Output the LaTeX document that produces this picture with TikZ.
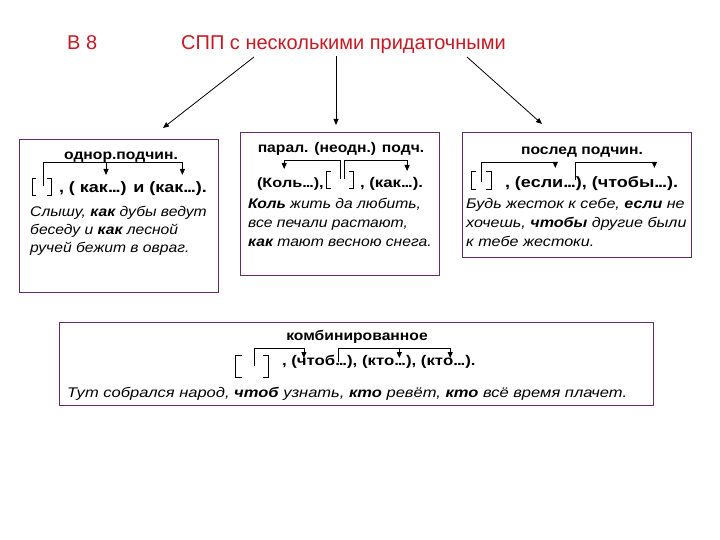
\documentclass[tikz,border=0pt]{standalone}
\usepackage{fontspec}
\setmainfont{Liberation Sans}
\newfontfamily\bodyfont[FakeStretch=1.12]{Liberation Sans}
\newfontfamily\bodyfontc[FakeStretch=1.15]{Liberation Sans}
\newfontfamily\bodyfontb[FakeStretch=1.18]{Liberation Sans}
\newfontfamily\schfont[FakeStretch=1.2]{Liberation Sans}
\usetikzlibrary{arrows.meta}
\definecolor{titlered}{RGB}{200,25,35}
\definecolor{boxline}{RGB}{100,45,100}
\tikzset{
  box/.style={draw=boxline, line width=1pt, fill=white},
  ttl/.style={font=\fontsize{20}{22}\selectfont, text=titlered, anchor=base west, inner sep=0},
  head/.style={font=\bodyfont\fontsize{14}{16}\selectfont\bfseries, anchor=base, inner sep=0},
  sch/.style={font=\schfont\fontsize{14}{16}\selectfont\bfseries, anchor=base west, inner sep=0, outer sep=0},
  schl/.style={sch, font=\schfont\fontsize{15}{17}\selectfont\bfseries},
  schs/.style={sch, font=\schfont\fontsize{13.5}{16}\selectfont\bfseries},
  ex/.style={font=\bodyfont\fontsize{14}{16}\selectfont\itshape, anchor=base west, inner sep=0},
  exc/.style={ex, font=\bodyfontc\fontsize{14}{16}\selectfont\itshape},
  exb/.style={ex, font=\bodyfontb\fontsize{14}{16}\selectfont\itshape},
  arr/.style={-{Triangle[length=6pt,width=5pt]}, line width=0.8pt},
  bline/.style={line width=0.8pt},
  brk/.style={line width=0.7pt}
}
\newcommand{\bi}[1]{\textbf{#1}}
\newcommand{\elp}{.\kern-0.08em.\kern-0.08em.}
\begin{document}
\begin{tikzpicture}[x=1pt,y=-1pt]
\useasboundingbox (0,0) rectangle (720,540);
\fill[white] (0,0) rectangle (720,540);

% title
\node[ttl] (b8) at (67,50) {В 8};
\node[ttl] (title) at (181,50) {СПП с несколькими придаточными};
\coordinate (s1) at (254,57);
\coordinate (e1) at (163,128);
\coordinate (s2) at (336,56);
\coordinate (e2) at (336,125);
\coordinate (s3) at (467,57);
\coordinate (e3) at (542,124);
\draw[arr] (s1) -- (e1);
\draw[arr] (s2) -- (e2);
\draw[arr] (s3) -- (e3);

% boxes
\draw[box] (19,140) rectangle (218,292);
\draw[box] (240,133) rectangle (439,275);
\draw[box] (462,133) rectangle (691,257);
\draw[box] (59,322) rectangle (653,405);

% ---- box 1
\node[head] (h1) at (121,160) {однор.подчин.};
\draw[brk] (36,178) -- (32,178) -- (32,195) -- (36,195);
\draw[brk] (47,178) -- (51,178) -- (51,195) -- (47,195);
\node[schl] (a1) at (59,193) {, ( как};
\node[schl] (a2) at (a1.base east) {\elp) и (как};
\node[schl] (a3) at (a2.base east) {\elp).};
\coordinate (ta1) at ([xshift=-2pt]a1.base east |- 0,175);
\coordinate (ta2) at ([xshift=-1pt]a2.base east |- 0,175);
\draw[bline] (43,186) -- (43,162) -- (ta2 |- 0,162);
\draw[arr] (ta1 |- 0,162) -- (ta1);
\draw[arr] (ta2 |- 0,162) -- (ta2);
\node[ex] (l11) at (30,216) {Слышу, \bi{как} дубы ведут};
\node[ex] (l12) at (30,234) {беседу и \bi{как} лесной};
\node[ex] (l13) at (30,252) {ручей бежит в овраг.};

% ---- box 2
\node[head] (h2) at (341,153) {парал. (неодн.) подч.};
\node[schs] (b1) at (257,188) {(Ко};
\node[schs] (b1b) at (b1.base east) {ль\elp),};
\draw[brk] (331,171) -- (326,171) -- (326,188) -- (331,188);
\draw[brk] (349,171) -- (353,171) -- (353,188) -- (349,188);
\node[sch] (b3) at (360,188) {, (как};
\node[sch] (b4) at (b3.base east) {\elp).};
\coordinate (tb1) at ([xshift=2pt]b1.base east |- 0,169);
\coordinate (tb2) at ([xshift=6pt]b3.base east |- 0,171);
\draw[bline] (340,179) -- (340,160) -- (tb1 |- 0,160);
\draw[arr] (tb1 |- 0,160) -- (tb1);
\draw[bline] (344,179) -- (344,160) -- (tb2 |- 0,160);
\draw[arr] (tb2 |- 0,160) -- (tb2);
\node[ex] (l21) at (248,208) {\bi{Коль} жить да любить,};
\node[ex] (l22) at (248,227) {все печали растают,};
\node[ex] (l23) at (248,246) {\bi{как} тают весною снега.};

% ---- box 3
\node[head] (h3) at (582,155) {послед подчин.};
\draw[brk] (476,171) -- (471,171) -- (471,189) -- (476,189);
\draw[brk] (486,171) -- (491,171) -- (491,189) -- (486,189);
\node[schl] (c1) at (505,188) {, (если};
\node[schl] (c2) at (c1.base east) {\elp),};
\node[schl] (c3) at (c2.base east) {\ (чтобы};
\node[schl] (c4) at (c3.base east) {\elp).};
\coordinate (tc1) at ([xshift=-8pt]c1.base east |- 0,168);
\coordinate (tc2) at ([xshift=0pt]c3.base east |- 0,168);
\coordinate (vc2) at ([xshift=-11pt]c2.base east |- 0,180);
\draw[bline] (481,182) -- (481,162) -- (tc1 |- 0,162);
\draw[arr] (tc1 |- 0,162) -- (tc1);
\draw[bline] (vc2) -- (vc2 |- 0,162) -- (tc2 |- 0,162);
\draw[arr] (tc2 |- 0,162) -- (tc2);
\node[exc] (l31) at (466,208) {Будь жесток к себе, \bi{если} не};
\node[exc] (l32) at (466,227) {хочешь, \bi{чтобы} другие были};
\node[exc] (l33) at (466,246) {к тебе жестоки.};

% ---- box 4
\node[head] (h4) at (357,340) {комбинированное};
\draw[brk] (242,355) -- (235,355) -- (235,377) -- (242,377);
\draw[brk] (263,355) -- (268,355) -- (268,377) -- (263,377);
\node[sch] (d1) at (282,365) {, (};
\node[sch] (d2) at (d1.base east) {чтоб};
\node[sch] (d2b) at (d2.base east) {\elp),};
\node[sch] (d3) at (d2b.base east) {\ (кто};
\node[sch] (d4) at (d3.base east) {\elp), (кт};
\node[sch] (d5) at (d4.base east) {о\elp).};
\coordinate (td1) at ([xshift=7pt]d1.base east |- 0,358);
\coordinate (td2) at ([xshift=5pt]d3.base east |- 0,358);
\coordinate (td3) at ([xshift=7pt]d4.base east |- 0,358);
\coordinate (vd2) at ([xshift=3pt]d2.base east |- 0,362);
\draw[bline] (254,366) -- (254,348) -- (td1 |- 0,348);
\draw[arr] (td1 |- 0,348) -- (td1);
\draw[bline] (vd2) -- (vd2 |- 0,348) -- (td3 |- 0,348);
\draw[arr] (td2 |- 0,348) -- (td2);
\draw[arr] (td3 |- 0,348) -- (td3);
\node[exb] (l41) at (67,397) {Тут собрался народ, \bi{чтоб} узнать, \bi{кто} ревёт, \bi{кто} всё время плачет.};
\end{tikzpicture}
\end{document}
